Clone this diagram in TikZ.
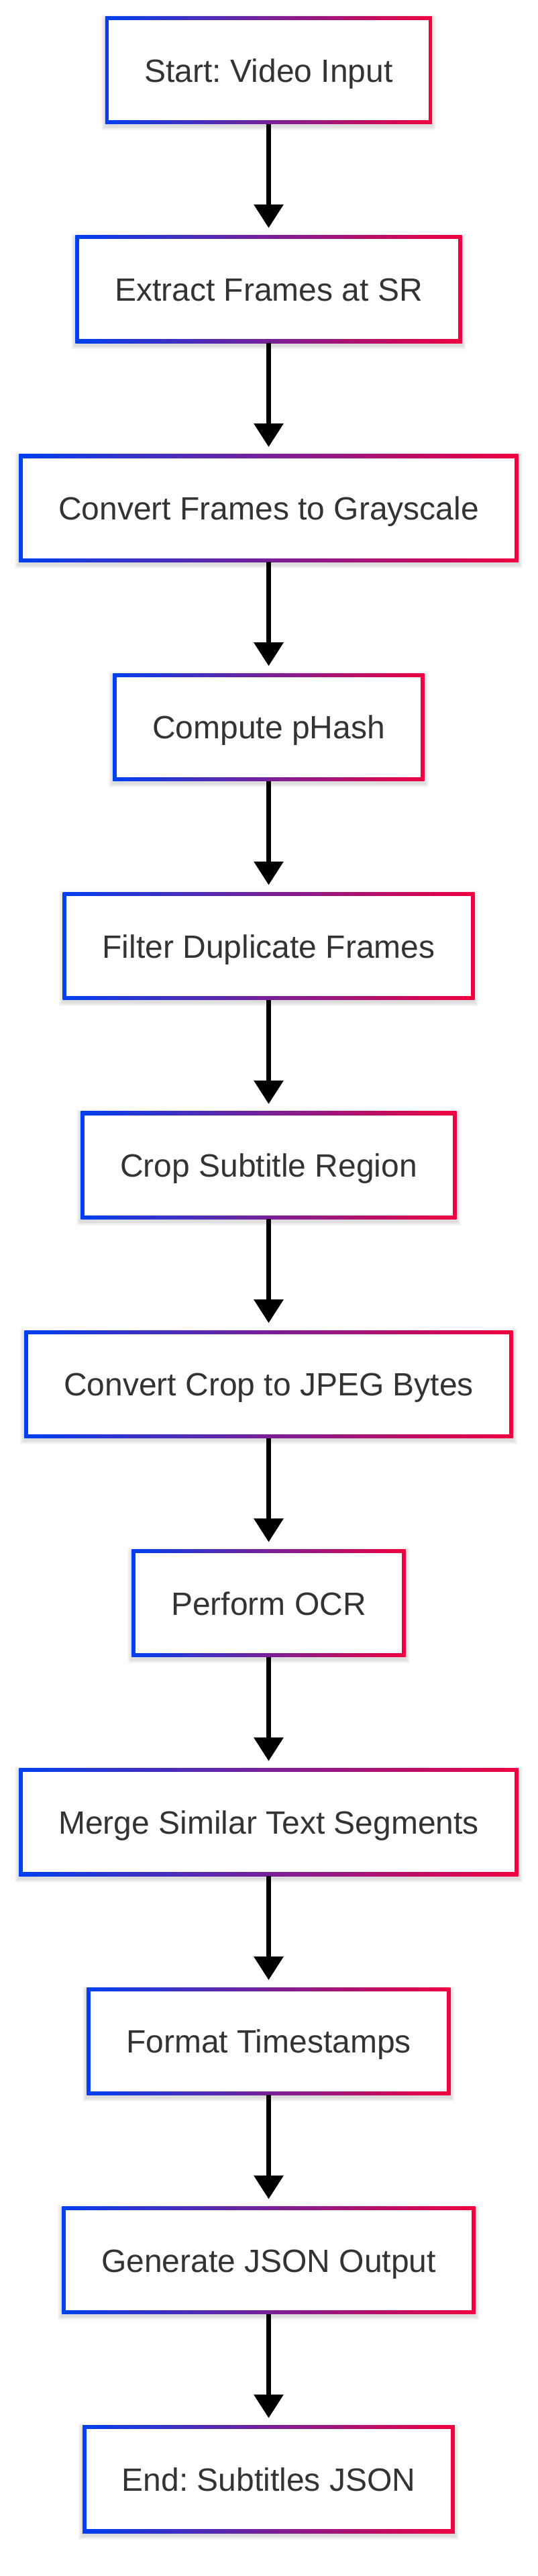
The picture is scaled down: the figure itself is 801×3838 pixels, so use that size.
\documentclass[tikz,border=0pt]{standalone}
\usepackage{fontspec}
\setmainfont{Liberation Sans}
\usetikzlibrary{arrows.meta,backgrounds}
\definecolor{gblue}{RGB}{0,64,240}
\definecolor{gred}{RGB}{240,0,64}
\definecolor{txt}{RGB}{51,51,51}
\frenchspacing
\begin{document}
\begin{tikzpicture}[x=1pt,y=-1pt,
  stepbox/.style={fill=white, inner xsep=53pt, inner ysep=0pt, minimum height=149pt,
    text height=35pt, text depth=0pt, font=\fontsize{48}{58}\selectfont, text=txt},
  flow/.style={line width=6.5pt, -{Triangle[width=43pt,length=35pt]},
    shorten <=5.5pt, shorten >=16.5pt}]
\useasboundingbox (0,0) rectangle (801,3838);
\node[stepbox] (n1) at (400.5,104.5) {Start: Video Input};
\node[stepbox] (n2) at (400.5,430.8) {Extract Frames at SR};
\node[stepbox] (n3) at (400.5,757.1) {Convert Frames to Grayscale};
\node[stepbox] (n4) at (400.5,1083.4) {Compute pHash};
\node[stepbox] (n5) at (400.5,1409.7) {Filter Duplicate Frames};
\node[stepbox] (n6) at (400.5,1736.0) {Crop Subtitle Region};
\node[stepbox] (n7) at (400.5,2062.3) {Convert Crop to JPEG Bytes};
\node[stepbox] (n8) at (400.5,2388.6) {Perform OCR};
\node[stepbox] (n9) at (400.5,2714.9) {Merge Similar Text Segments};
\node[stepbox] (n10) at (400.5,3041.2) {Format Timestamps};
\node[stepbox] (n11) at (400.5,3367.5) {Generate JSON Output};
\node[stepbox] (n12) at (400.5,3693.8) {End: Subtitles JSON};
\begin{scope}[on background layer]
\foreach \n in {n1,n2,n3,n4,n5,n6,n7,n8,n9,n10,n11,n12} {
  \foreach \k in {1,2,3,4,5,6} {
    \fill[black,opacity=0.022]
      ([xshift=-5.5pt-\k pt,yshift=-9pt-\k pt]\n.south west) rectangle
      ([xshift=5.5pt+\k pt,yshift=2pt+\k pt]\n.north east);
  }
  \shade[left color=gblue, right color=gred]
    ([xshift=-5.5pt,yshift=-5.5pt]\n.south west) rectangle
    ([xshift=5.5pt,yshift=5.5pt]\n.north east);
}
\end{scope}
\foreach \a/\b in {n1/n2,n2/n3,n3/n4,n4/n5,n5/n6,n6/n7,n7/n8,n8/n9,n9/n10,n10/n11,n11/n12} {
  \draw[flow] (\a.south) -- (\b.north);
}
\end{tikzpicture}
\end{document}
